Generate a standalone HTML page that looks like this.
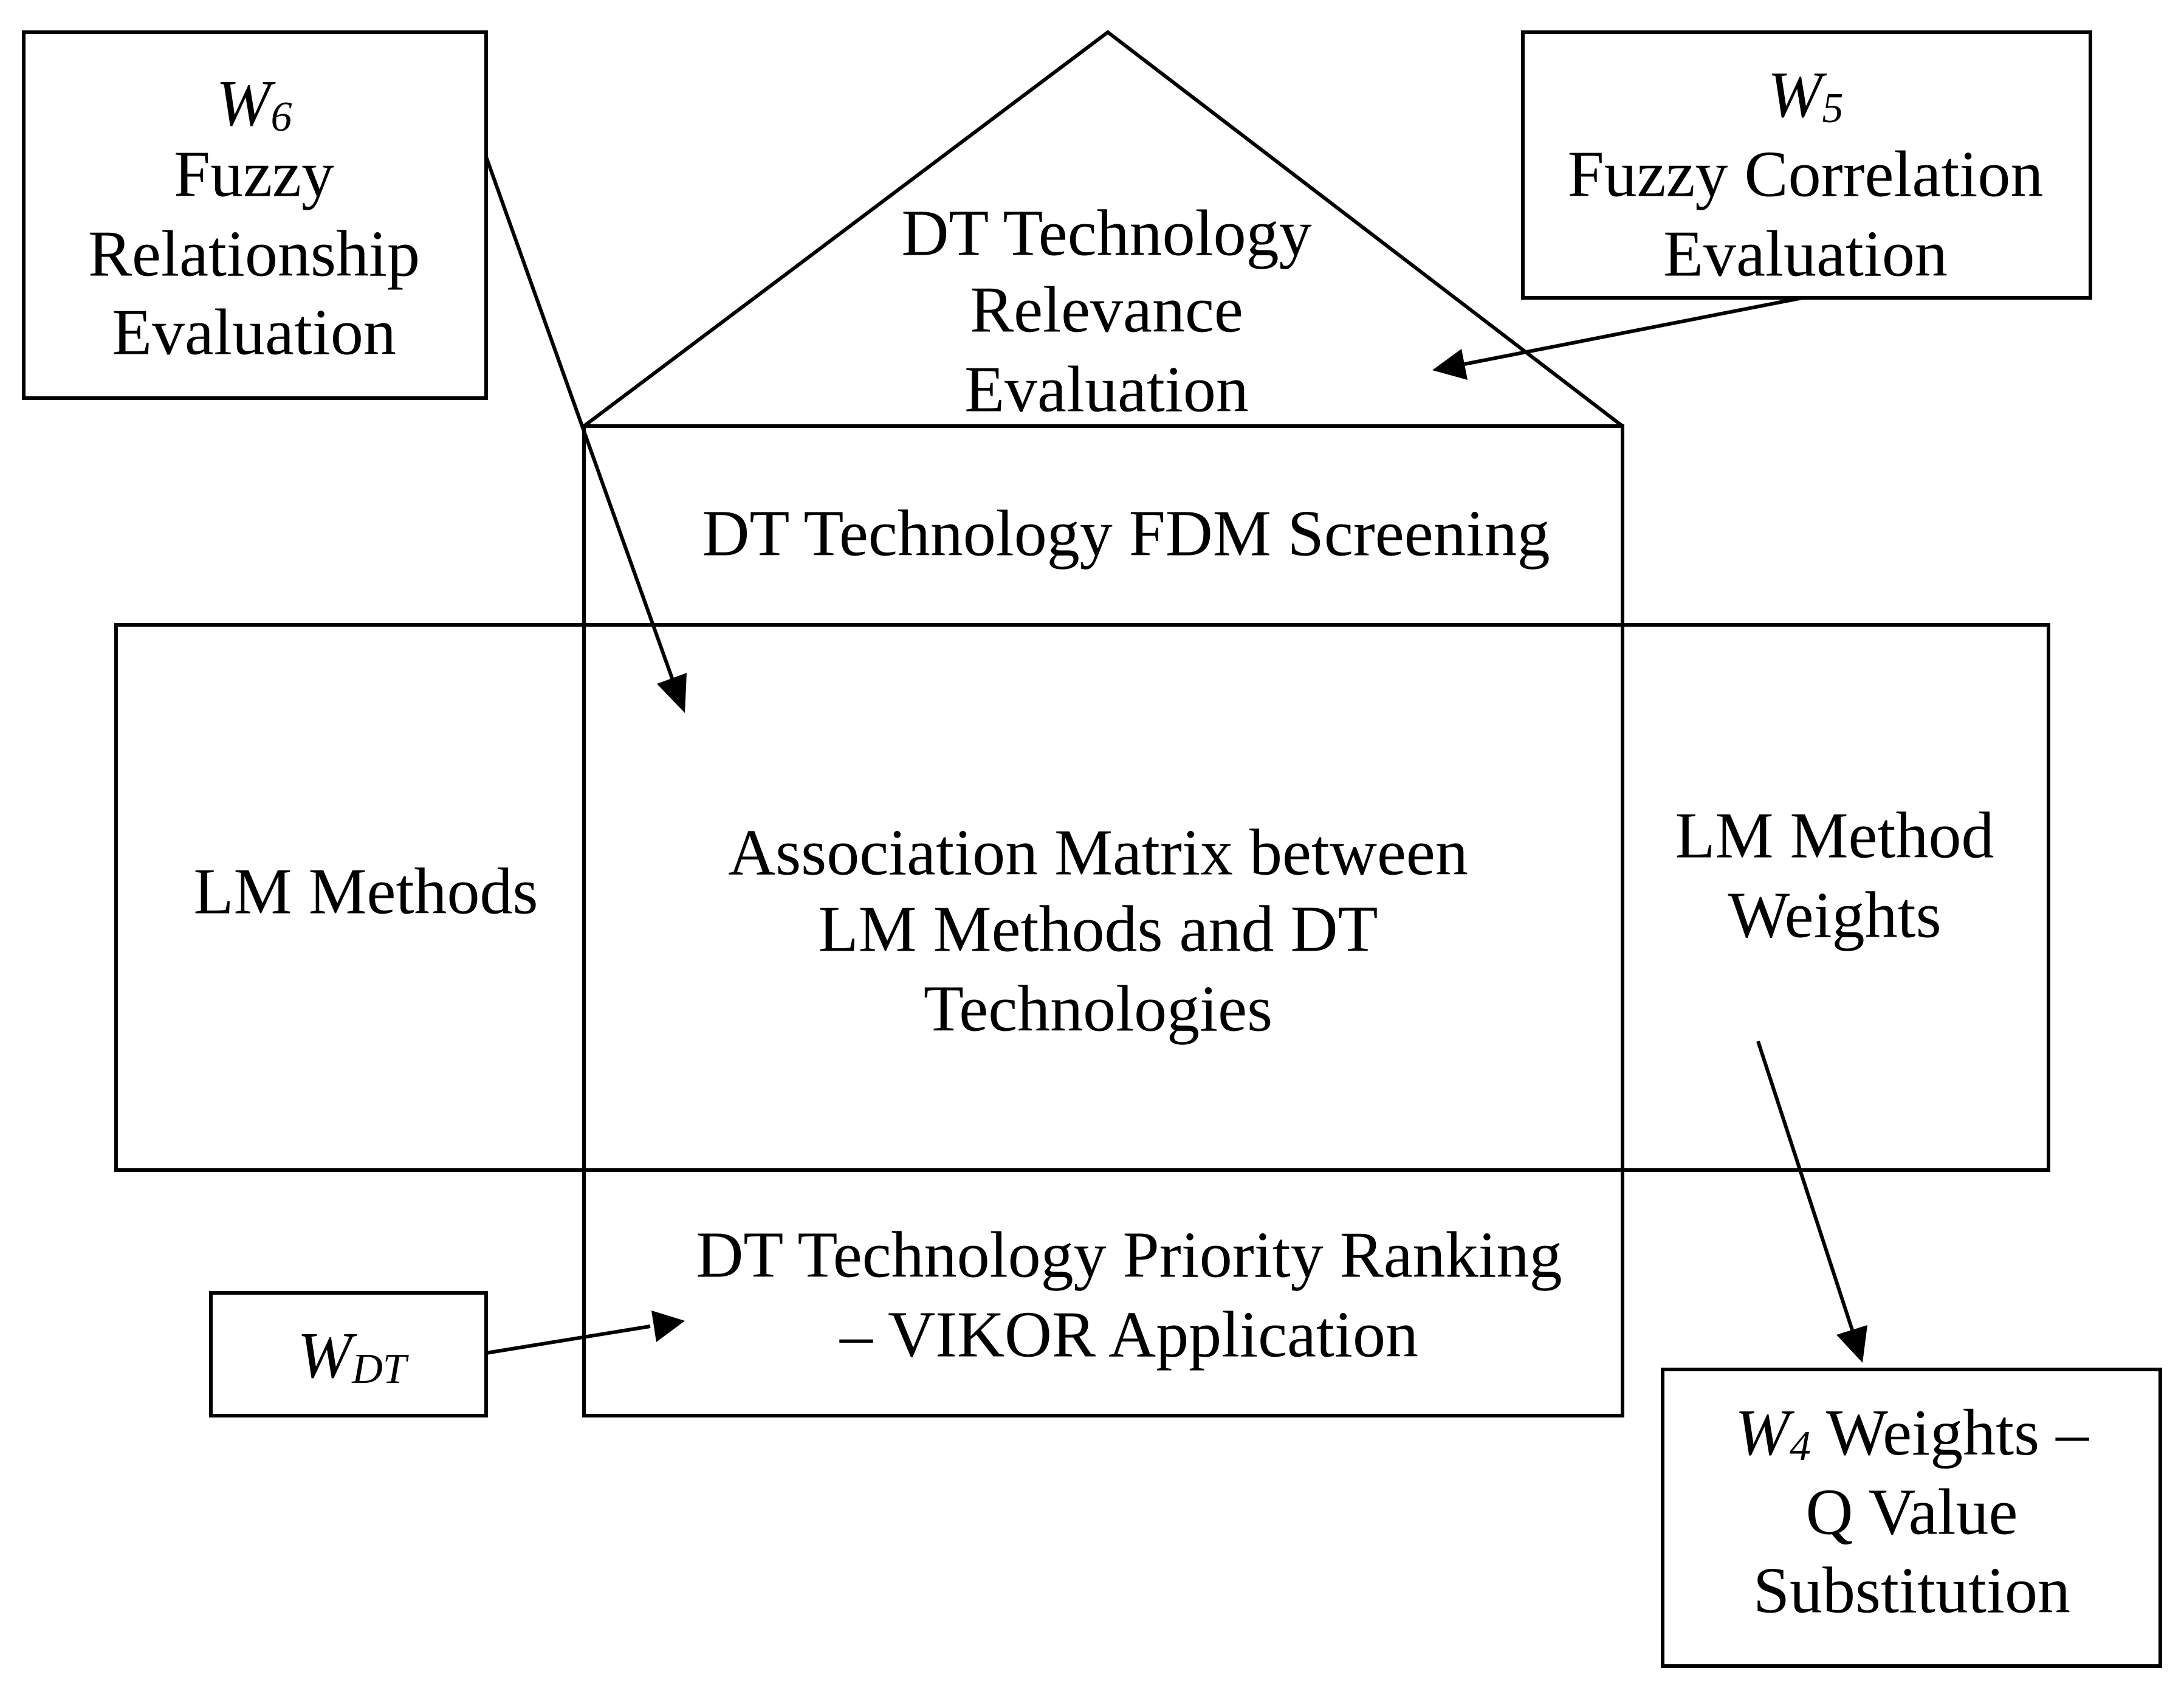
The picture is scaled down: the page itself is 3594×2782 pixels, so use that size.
<!DOCTYPE html>
<html><head><meta charset="utf-8"><style>
html,body{margin:0;padding:0;background:#fff;}
svg{display:block;}
text{font-family:"Liberation Serif",serif;font-size:108px;fill:#000;}
</style></head><body>
<svg width="3594" height="2782" viewBox="0 0 3594 2782" xmlns="http://www.w3.org/2000/svg">
<defs>
<marker id="ah" markerWidth="10" markerHeight="8" refX="10" refY="4" orient="auto" markerUnits="userSpaceOnUse" viewBox="0 0 10 8">
</marker>
</defs>
<g fill="none" stroke="#000" stroke-width="6">
<rect x="39" y="53" width="761" height="602"/>
<rect x="2506" y="53" width="934" height="437"/>
<polyline points="961,701 1823,53 2670,701"/>
<rect x="961" y="701" width="1709" height="1628"/>
<rect x="191" y="1028" width="3180" height="897"/>
<rect x="347" y="2127" width="453" height="202"/>
<rect x="2736" y="2253" width="819" height="488"/>
<line x1="800" y1="258" x2="1106" y2="1116"/>
<line x1="2966" y1="490" x2="2410" y2="599"/>
<line x1="800" y1="2226" x2="1070" y2="2182"/>
<line x1="2893" y1="1713" x2="3048" y2="2188"/>
</g>
<g fill="#000">
<polygon points="1127,1173 1081,1125 1130,1107"/>
<polygon points="2357,609 2405,574 2415,625"/>
<polygon points="1127,2173 1072,2156 1080,2208"/>
<polygon points="3065,2242 3022,2196 3073,2180"/>
</g>
<g text-anchor="middle" dominant-baseline="central">
<text x="418" y="170"><tspan font-style="italic">W</tspan><tspan font-style="italic" font-size="70" dy="22">6</tspan></text>
<text x="418" y="287">Fuzzy</text>
<text x="418" y="418">Relationship</text>
<text x="418" y="547">Evaluation</text>
<text x="1821" y="384">DT Technology</text>
<text x="1821" y="510">Relevance</text>
<text x="1821" y="641">Evaluation</text>
<text x="2971" y="156"><tspan font-style="italic">W</tspan><tspan font-style="italic" font-size="70" dy="22">5</tspan></text>
<text x="2971" y="287">Fuzzy Correlation</text>
<text x="2971" y="418">Evaluation</text>
<text x="1853" y="878">DT Technology FDM Screening</text>
<text x="602" y="1467">LM Methods</text>
<text x="1807" y="1403">Association Matrix between</text>
<text x="1807" y="1529">LM Methods and DT</text>
<text x="1807" y="1660">Technologies</text>
<text x="3019" y="1375">LM Method</text>
<text x="3019" y="1506">Weights</text>
<text x="1858" y="2065">DT Technology Priority Ranking</text>
<text x="1858" y="2196">– VIKOR Application</text>
<text x="579" y="2230"><tspan font-style="italic">W</tspan><tspan font-style="italic" font-size="70" dy="22">DT</tspan></text>
<text x="3146" y="2357"><tspan font-style="italic">W</tspan><tspan font-style="italic" font-size="70" dy="22">4</tspan><tspan dy="-22"> Weights –</tspan></text>
<text x="3146" y="2488">Q Value</text>
<text x="3146" y="2617">Substitution</text>
</g>
</svg>
</body></html>
